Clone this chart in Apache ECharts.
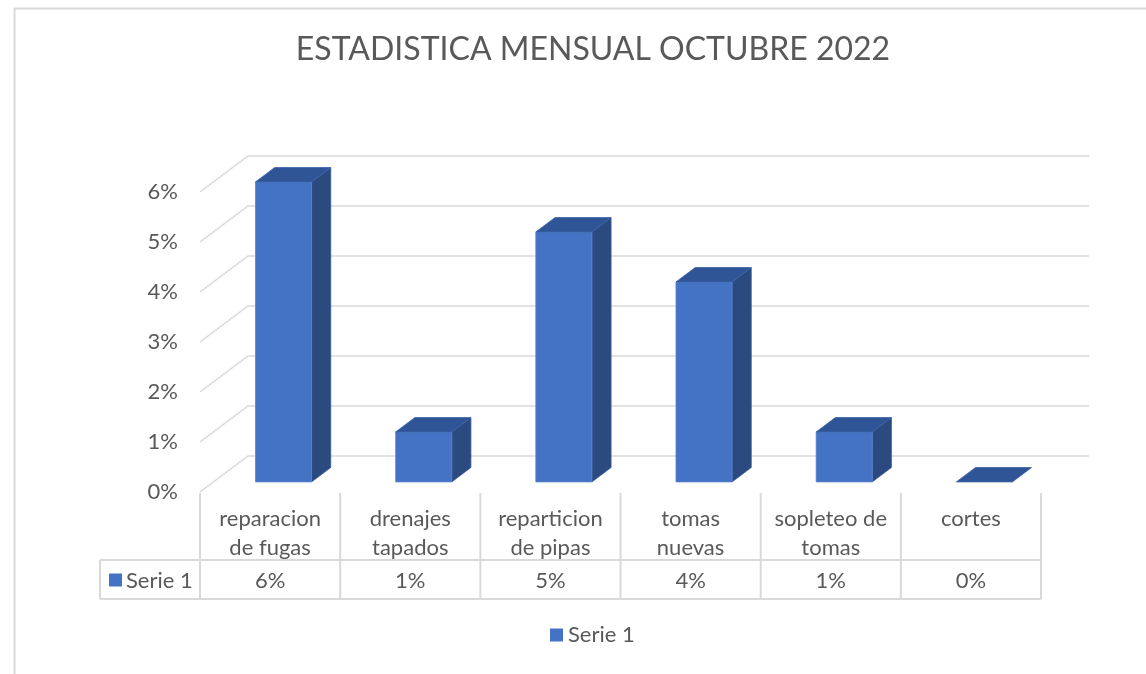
<!DOCTYPE html>
<html lang="es">
<head>
    <meta charset="UTF-8">
    <title>ESTADISTICA MENSUAL OCTUBRE 2022</title>
    <script src="https://cdn.jsdelivr.net/npm/echarts@6/dist/echarts.min.js"></script>
    <style>
        body { margin: 0; padding: 0; background: #ffffff; }
        #chart { width: 1146px; height: 674px; }
    </style>
</head>
<body>
<div id="chart"></div>
<script>
    // datos del grafico
    const categories = ['reparacion\nde fugas', 'drenajes\ntapados', 'reparticion\nde pipas', 'tomas\nnuevas', 'sopleteo de\ntomas', 'cortes'];
    const values = [6, 1, 5, 4, 1, 0];
    const yTicks = [0, 1, 2, 3, 4, 5, 6];
    const seriesName = 'Serie 1';

    // estilo 3D
    const DX = 48, DY = 36;        // profundidad de la pared
    const Z0 = 0.28, Z1 = 0.68;    // cara frontal / trasera de la barra
    const FONT = 'Lato';
    const FS = 22;
    const GREY = '#595959';
    const LINE = '#d9d9d9';

    const chart = echarts.init(document.getElementById('chart'));

    // lineas de la cuadricula en perspectiva
    function renderGrid(params, api) {
        const v = api.value(1);
        const band = api.size([1, 0])[0];
        const p0 = api.coord([0, v]);
        const pN = api.coord([categories.length - 1, v]);
        const xl = p0[0] - band / 2;
        const xr = pN[0] + band / 2;
        const y = p0[1];
        return {
            type: 'polyline',
            shape: { points: [[xl, y], [xl + DX, y - DY], [xr + DX, y - DY]] },
            style: { stroke: LINE, lineWidth: 1.5, fill: null },
            silent: true
        };
    }

    // barras 3D
    function renderBar(params, api) {
        const i = api.value(0);
        const top = api.coord([i, api.value(1)]);
        const base = api.coord([i, 0]);
        const bw = api.size([1, 0])[0] * 0.4;
        const xl = top[0] - bw / 2, xr = top[0] + bw / 2;
        const ox0 = DX * Z0, oy0 = -DY * Z0, ox1 = DX * Z1, oy1 = -DY * Z1;
        const yt = top[1], yb = base[1];
        const children = [];
        if (yb - yt > 0.5) {
            children.push({
                type: 'polygon',
                shape: { points: [[xr + ox0, yt + oy0], [xr + ox1, yt + oy1], [xr + ox1, yb + oy1], [xr + ox0, yb + oy0]] },
                style: { fill: '#2b4a80', stroke: '#3a5d9a', lineWidth: 0.8 }
            });
            children.push({
                type: 'polygon',
                shape: { points: [[xl + ox0, yt + oy0], [xr + ox0, yt + oy0], [xr + ox0, yb + oy0], [xl + ox0, yb + oy0]] },
                style: { fill: '#4472c4', stroke: '#5a84cc', lineWidth: 0.8 }
            });
        }
        children.push({
            type: 'polygon',
            shape: { points: [[xl + ox0, yt + oy0], [xr + ox0, yt + oy0], [xr + ox1, yt + oy1], [xl + ox1, yt + oy1]] },
            style: { fill: '#2f5597', stroke: '#3b62a6', lineWidth: 0.8 }
        });
        return { type: 'group', children: children };
    }

    // tabla de datos bajo el eje
    function renderTable(params, api) {
        const i = api.value(0);
        const base = api.coord([i, 0]);
        const band = api.size([1, 0])[0];
        const xl = base[0] - band / 2, xr = base[0] + band / 2;
        const y0 = base[1] + 1, y1 = base[1] + 68, y2 = base[1] + 107;
        const ls = { stroke: LINE, lineWidth: 2 };
        const children = [
            { type: 'line', shape: { x1: xl, y1: y0, x2: xl, y2: y2 }, style: ls },
            { type: 'line', shape: { x1: xl, y1: y1, x2: xr, y2: y1 }, style: ls },
            { type: 'line', shape: { x1: xl, y1: y2, x2: xr, y2: y2 }, style: ls },
            {
                type: 'text',
                style: {
                    text: api.value(1) + '%', x: base[0], y: (y1 + y2) / 2 + 1,
                    align: 'center', verticalAlign: 'middle',
                    fill: GREY, fontSize: FS, fontFamily: FONT
                }
            }
        ];
        if (i === categories.length - 1) {
            children.push({ type: 'line', shape: { x1: xr, y1: y0, x2: xr, y2: y2 }, style: ls });
        }
        if (i === 0) {
            const lx = xl - 100;
            children.push(
                { type: 'line', shape: { x1: lx, y1: y1, x2: xl, y2: y1 }, style: ls },
                { type: 'line', shape: { x1: lx, y1: y2, x2: xl, y2: y2 }, style: ls },
                { type: 'line', shape: { x1: lx, y1: y1, x2: lx, y2: y2 }, style: ls },
                { type: 'rect', shape: { x: lx + 9, y: (y1 + y2) / 2 - 6, width: 13, height: 13 }, style: { fill: '#4472c4' } },
                {
                    type: 'text',
                    style: {
                        text: seriesName, x: lx + 26, y: (y1 + y2) / 2 + 1,
                        align: 'left', verticalAlign: 'middle',
                        fill: GREY, fontSize: FS, fontFamily: FONT
                    }
                }
            );
        }
        return { type: 'group', children: children };
    }

    const option = {
        animation: false,
        backgroundColor: '#ffffff',
        title: {
            text: 'ESTADISTICA MENSUAL OCTUBRE 2022',
            left: 588,
            top: 29,
            textAlign: 'center',
            textStyle: { fontFamily: FONT, fontSize: 32, fontWeight: 'normal', color: GREY }
        },
        graphic: [{
            type: 'rect',
            left: 12, top: 6,
            shape: { width: 1160, height: 700 },
            style: { fill: null, stroke: LINE, lineWidth: 2 },
            silent: true
        }],
        legend: {
            data: [seriesName],
            left: 550,
            top: 624,
            padding: 0,
            icon: 'rect',
            itemWidth: 13,
            itemHeight: 13,
            itemGap: 6,
            textStyle: { fontFamily: FONT, fontSize: FS, color: GREY }
        },
        grid: { left: 200, right: 105, top: 192, bottom: 182 },
        xAxis: {
            type: 'category',
            data: categories,
            axisLine: { show: false },
            axisTick: { show: false },
            axisLabel: {
                interval: 0, margin: 12, lineHeight: 29,
                fontFamily: FONT, fontSize: FS, color: GREY
            }
        },
        yAxis: {
            type: 'value',
            min: 0, max: 6, interval: 1,
            splitLine: { show: false },
            axisLine: { show: false },
            axisTick: { show: false },
            axisLabel: {
                margin: 22, formatter: '{value}%',
                fontFamily: FONT, fontSize: FS, color: GREY
            }
        },
        series: [
            {
                type: 'custom',
                renderItem: renderGrid,
                data: yTicks.map(v => [0, v]),
                silent: true,
                z: 1
            },
            {
                type: 'custom',
                name: seriesName,
                renderItem: renderBar,
                data: values.map((v, i) => [i, v]),
                itemStyle: { color: '#4472c4' },
                z: 3
            },
            {
                type: 'custom',
                renderItem: renderTable,
                data: values.map((v, i) => [i, v]),
                silent: true,
                z: 2
            }
        ]
    };

    chart.setOption(option);
</script>
</body>
</html>
